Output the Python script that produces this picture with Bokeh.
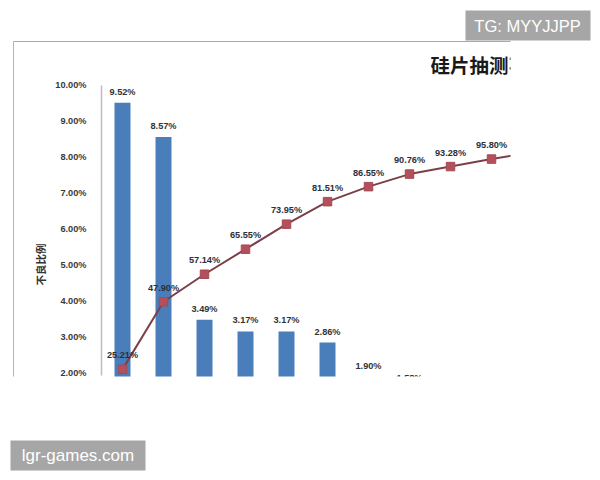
from bokeh.plotting import figure
from bokeh.models import (BoxAnnotation, ColumnDataSource, FixedTicker, Label, LinearAxis,
                          PrintfTickFormatter, Range1d)
from bokeh.core.properties import value
from bokeh.embed import file_html
from bokeh.resources import INLINE
import math

title_text = "硅片抽测不"
y_title = "不良比例"
bar_values = [9.52, 8.57, 3.49, 3.17, 3.17, 2.86, 1.90, 1.58]
line_values = [25.21, 47.90, 57.14, 65.55, 73.95, 81.51, 86.55, 90.76, 93.28, 95.80, 98.10]
y_ticks = [2, 3, 4, 5, 6, 7, 8, 9, 10]

FONT = "Liberation Sans"
bar_x = list(range(len(bar_values)))
line_x = list(range(len(line_values)))

p = figure(width=592, height=472, output_backend="svg", toolbar_location=None,
           x_range=Range1d(-2.9756, 11.463), y_range=Range1d(-0.75, 12.361),
           min_border_left=0, min_border_top=0, min_border_right=0, min_border_bottom=0,
           outline_line_color=None, background_fill_color="white", border_fill_color="white",
           x_axis_location=None, y_axis_location=None)
p.grid.visible = False

p.extra_y_ranges = {"cum": Range1d(-9.41, 149.03)}

axis = LinearAxis(ticker=FixedTicker(ticks=y_ticks), formatter=PrintfTickFormatter(format="%.2f%%"),
                  bounds=(1.944, 10), major_tick_line_color=None, minor_tick_line_color=None,
                  axis_line_color="#bdbdbd", axis_line_width=1.5, major_label_standoff=9,
                  major_label_text_font=FONT, major_label_text_font_size="9.2px",
                  major_label_text_font_style="bold", major_label_text_color="#3a3a3a",
                  fixed_location=-0.512)
p.add_layout(axis, "left")

bars = ColumnDataSource(dict(x=bar_x, top=bar_values, label=[f"{v:.2f}%" for v in bar_values]))
p.vbar(x="x", top="top", bottom=0, width=0.39, source=bars, fill_color="#4a7ebb", line_color=None)
p.text(x="x", y="top", text="label", source=bars, text_align="center", text_baseline="middle",
       y_offset=-11, text_font=value(FONT), text_font_size="9.2px", text_font_style="bold",
       text_color="#333333")

line = ColumnDataSource(dict(x=line_x, y=line_values, label=[f"{v:.2f}%" for v in line_values]))
p.line(x="x", y="y", source=line, y_range_name="cum", line_color="#7d3f47", line_width=2)
p.scatter(x="x", y="y", source=line, y_range_name="cum", marker="square", size=8.5,
          fill_color="#b4505c", line_color="#a34a55")
p.text(x="x", y="y", text="label", source=line, y_range_name="cum", text_align="center",
       text_baseline="middle", y_offset=-14, text_font=value(FONT), text_font_size="9.2px",
       text_font_style="bold", text_color="#2b2f3a")

p.text(x=[7.512], y=[10.58], text=[title_text], text_align="left", text_baseline="middle",
       text_font=value("Noto Sans CJK SC"), text_font_size="19.5px", text_font_style="bold",
       text_color="#1a1a1a")


def box(l, r, t, b, color):
    p.add_layout(BoxAnnotation(left=l, right=r, top=t, bottom=b,
                               left_units="canvas", right_units="canvas",
                               top_units="canvas", bottom_units="canvas",
                               fill_color=color, fill_alpha=1, line_color=None, editable=False,
                               level="overlay"))


# white masks: the photographed chart is cropped at these edges
box(510, 592, 0, 472, "#ffffff")
box(0, 592, 376, 472, "#ffffff")
# chart border
box(13, 510, 40.5, 41.5, "#a8a8a8")
box(12.5, 13.5, 41, 376, "#b5b5b5")
# watermarks
box(465, 590, 10, 40, "#a6a6a6")
box(10, 145, 440, 470, "#a6a6a6")


def label(x, y, text, font, size, color, style="normal", angle=0):
    p.add_layout(Label(x=x, y=y, x_units="canvas", y_units="canvas", text=text, angle=angle,
                       text_align="center", text_baseline="middle", text_font=font,
                       text_font_size=size, text_font_style=style, text_color=color,
                       level="overlay"))


label(39.5, 264, y_title, "Noto Sans CJK SC", "10.5px", "#333333", "bold", math.pi / 2)
label(527, 25, "TG: MYYJJPP", FONT, "16.5px", "#ffffff")
label(77.5, 455, "lgr-games.com", FONT, "17px", "#ffffff")

open("out.html", "w").write(file_html(p, INLINE))
